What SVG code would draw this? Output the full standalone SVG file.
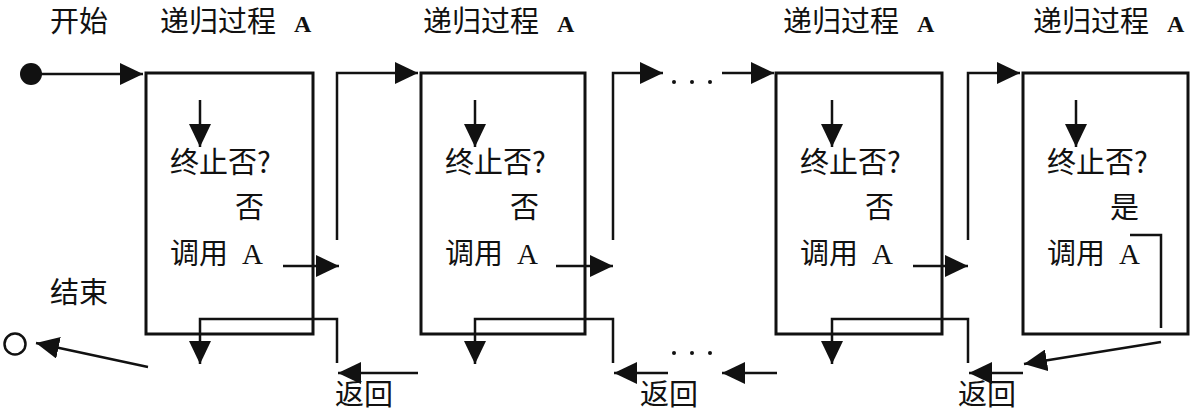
<svg xmlns="http://www.w3.org/2000/svg" width="1193" height="414" viewBox="0 0 1193 414">
<style>
.box{fill:none;stroke:#111;stroke-width:3}
.ln{fill:none;stroke:#111;stroke-width:2.5}
.arr{marker-end:url(#ah)}
.t{font-family:"Noto Sans CJK SC","Noto Sans CJK JP",sans-serif;font-size:29px;fill:#111}
.a{font-family:"Liberation Serif",serif;font-size:29px}
.ta{font-family:"Liberation Serif",serif;font-size:24px;font-weight:bold}
.dot{fill:#111}
</style>
<defs>
<marker id="ah" markerUnits="userSpaceOnUse" markerWidth="24" markerHeight="22" refX="23" refY="11" orient="auto">
<path d="M0,0 L23,11 L0,22 z" fill="#111"/>
</marker>
</defs>
<rect width="1193" height="414" fill="#fff"/>

<g id="start">
<circle cx="31" cy="74" r="11" fill="#111"/>
<text class="t" x="50" y="32">开始</text>
</g>
<g id="end">
<circle cx="15" cy="344" r="10.5" fill="none" stroke="#111" stroke-width="2.5"/>
<text class="t" x="50" y="303">结束</text>
</g>

<g id="box1">
<text class="t" x="160" y="32">递归过程 <tspan class="ta" x="294">A</tspan></text>
<rect class="box" x="146" y="73" width="167" height="261"/>
<line class="ln arr" x1="200" y1="100" x2="200" y2="147"/>
<text class="t" x="170" y="173">终止否?</text>
<text class="t" x="235" y="218">否</text>
<text class="t" x="170" y="264">调用 <tspan class="a" x="242">A</tspan></text>
</g>
<g id="box2">
<text class="t" x="423" y="32">递归过程 <tspan class="ta" x="557">A</tspan></text>
<rect class="box" x="421" y="73" width="164" height="261"/>
<line class="ln arr" x1="475" y1="100" x2="475" y2="147"/>
<text class="t" x="445" y="173">终止否?</text>
<text class="t" x="510" y="218">否</text>
<text class="t" x="445" y="264">调用 <tspan class="a" x="517">A</tspan></text>
</g>
<g id="box3">
<text class="t" x="783" y="32">递归过程 <tspan class="ta" x="917">A</tspan></text>
<rect class="box" x="776" y="73" width="166" height="261"/>
<line class="ln arr" x1="832" y1="100" x2="832" y2="147"/>
<text class="t" x="800" y="173">终止否?</text>
<text class="t" x="865" y="218">否</text>
<text class="t" x="800" y="264">调用 <tspan class="a" x="872">A</tspan></text>
</g>
<g id="box4">
<text class="t" x="1033" y="32">递归过程 <tspan class="ta" x="1167">A</tspan></text>
<rect class="box" x="1023" y="73" width="165" height="261"/>
<line class="ln arr" x1="1076" y1="100" x2="1076" y2="147"/>
<text class="t" x="1047" y="173">终止否?</text>
<text class="t" x="1110" y="218">是</text>
<text class="t" x="1047" y="264">调用 <tspan class="a" x="1119">A</tspan></text>
</g>

<g id="labels">
<text class="t" x="335" y="405">返回</text>
<text class="t" x="640" y="405">返回</text>
<text class="t" x="958" y="405">返回</text>
<g class="dot">
<circle cx="674" cy="82" r="2"/><circle cx="692" cy="82" r="2"/><circle cx="710" cy="82" r="2"/>
<circle cx="674" cy="353" r="2"/><circle cx="692" cy="353" r="2"/><circle cx="710" cy="353" r="2"/>
</g>
</g>

<g id="connectors">
<line class="ln arr" x1="40" y1="74" x2="143" y2="74"/>
<line class="ln arr" x1="283" y1="266" x2="339" y2="266"/>
<polyline class="ln arr" points="337,240 337,73 418,73"/>
<line class="ln arr" x1="556" y1="266" x2="613" y2="266"/>
<polyline class="ln arr" points="613,240 613,73 663,73"/>
<line class="ln arr" x1="722" y1="73" x2="774" y2="73"/>
<line class="ln arr" x1="913" y1="266" x2="968" y2="266"/>
<polyline class="ln arr" points="968,240 968,73 1020,73"/>
<polyline class="ln" points="1130,235 1161,235 1161,328"/>
<line class="ln arr" x1="1161" y1="342" x2="1024" y2="364"/>
<line class="ln arr" x1="1023" y1="373" x2="969" y2="373"/>
<polyline class="ln arr" points="968,363 968,319 832,319 832,364"/>
<line class="ln arr" x1="777" y1="373" x2="722" y2="373"/>
<line class="ln arr" x1="668" y1="373" x2="614" y2="373"/>
<polyline class="ln arr" points="613,363 613,319 475,319 475,364"/>
<line class="ln arr" x1="418" y1="373" x2="338" y2="373"/>
<polyline class="ln arr" points="337,363 337,319 200,319 200,364"/>
<line class="ln arr" x1="148" y1="367" x2="36" y2="343"/>
</g>
</svg>
